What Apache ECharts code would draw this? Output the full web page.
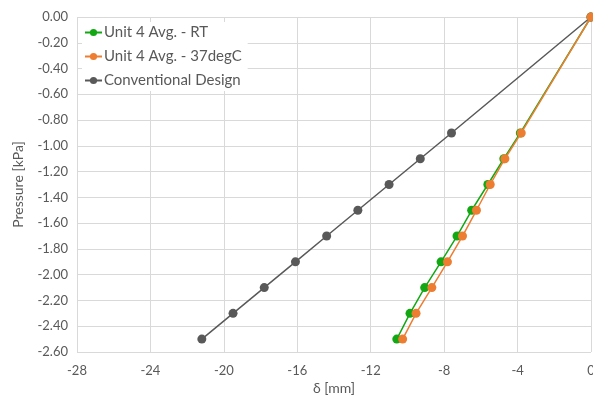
<!DOCTYPE html>
<html>
<head>
<meta charset="utf-8">
<script src="https://cdn.jsdelivr.net/npm/echarts@6/dist/echarts.min.js"></script>
<style>
html,body{margin:0;padding:0;background:#fff;}
#chart{width:593px;height:403px;}
</style>
</head>
<body>
<div id="chart"></div>
<script>
// Pressure levels [kPa]
const pressure = [0, -0.9, -1.1, -1.3, -1.5, -1.7, -1.9, -2.1, -2.3, -2.5];
// Deflection δ [mm] for each series at those pressures
const unit4RT = [0, -3.85, -4.75, -5.62, -6.5, -7.3, -8.17, -9.06, -9.86, -10.58];
const unit437 = [0, -3.8, -4.69, -5.49, -6.24, -7.0, -7.82, -8.67, -9.53, -10.26];
const conventional = [0, -7.6, -9.3, -11.0, -12.7, -14.4, -16.1, -17.8, -19.5, -21.2];

const seriesNames = ['Unit 4 Avg. - RT', 'Unit 4 Avg. - 37degC', 'Conventional Design'];
const seriesColors = ['#13a813', '#ed7d31', '#595959'];
const seriesData = [unit4RT, unit437, conventional];

const font = 'Lato, "Open Sans", sans-serif';
const textColor = '#595959';

const chart = echarts.init(document.getElementById('chart'));
chart.setOption({
  animation: false,
  backgroundColor: '#ffffff',
  grid: { left: 77, right: 2, top: 17, bottom: 51, containLabel: false, outerBoundsMode: 'none' },
  legend: {
    left: 82, top: 22,
    orient: 'vertical',
    itemGap: 9,
    itemWidth: 17, itemHeight: 9,
    backgroundColor: '#ffffff',
    padding: [3, 6, 3, 2],
    textStyle: { color: textColor, fontSize: 15, fontFamily: font, padding: [0, 0, 0, -3] },
    data: seriesNames
  },
  xAxis: {
    type: 'value',
    min: -28, max: 0, interval: 4,
    position: 'bottom',
    name: 'δ [mm]',
    nameLocation: 'middle',
    nameGap: 29,
    nameTextStyle: { color: textColor, fontSize: 14, fontFamily: font },
    axisLine: { show: false, onZero: false },
    axisTick: { show: false },
    axisLabel: { color: textColor, fontSize: 13, fontFamily: font, margin: 12 },
    splitLine: { show: true, lineStyle: { color: '#d9d9d9', width: 1 } }
  },
  yAxis: {
    type: 'value',
    min: -2.6, max: 0, interval: 0.2,
    name: 'Pressure [kPa]',
    nameLocation: 'middle',
    nameGap: 52,
    nameTextStyle: { color: textColor, fontSize: 14, fontFamily: font },
    axisLine: { show: false, onZero: false },
    axisTick: { show: false },
    axisLabel: {
      color: textColor, fontSize: 13, fontFamily: font, margin: 9,
      formatter: v => (Math.abs(v) < 1e-9 ? 0 : v).toFixed(2)
    },
    splitLine: { show: true, lineStyle: { color: '#d9d9d9', width: 1 } }
  },
  series: seriesNames.map((name, i) => ({
    name: name,
    type: 'line',
    data: seriesData[i].map((d, k) => [d, pressure[k]]),
    symbol: 'circle',
    symbolSize: 9,
    color: seriesColors[i],
    lineStyle: { color: seriesColors[i], width: 1.5 },
    itemStyle: { color: seriesColors[i] },
    z: i === 1 ? 3 : 2
  }))
});
</script>
</body>
</html>
